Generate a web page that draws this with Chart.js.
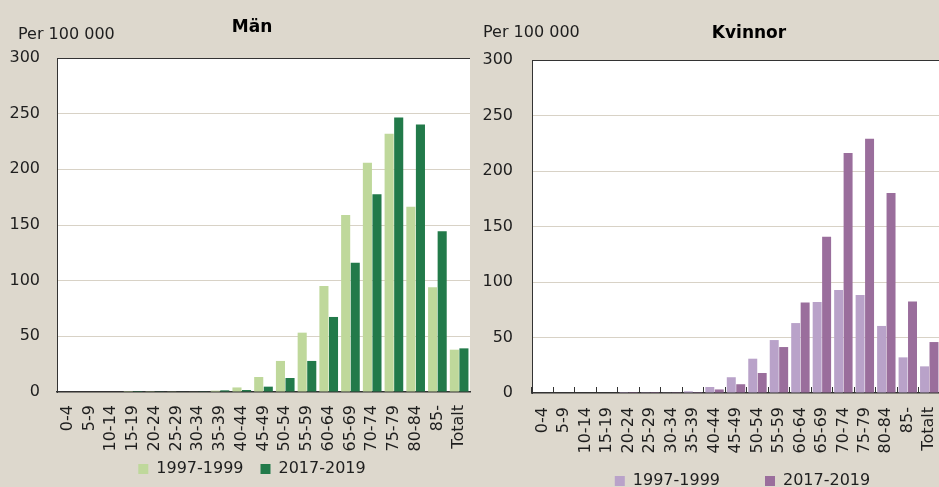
<!DOCTYPE html>
<html>
<head>
<meta charset="utf-8">
<script src="https://cdn.jsdelivr.net/npm/chart.js@4/dist/chart.umd.min.js"></script>
<style>
html, body { margin:0; padding:0; background:#ddd8cd; width:939px; height:487px; overflow:hidden; position:relative; font-family:"DejaVu Sans", sans-serif; color:#1e1e1e; }
.box { position:absolute; top:0; height:487px; overflow:hidden; }
.lbl { position:absolute; white-space:nowrap; line-height:1; }
.ttl { font-weight:bold; font-size:17px; color:#000; text-align:center; width:200px; }
</style>
</head>
<body>
<div class="box" style="left:0;width:472px"><canvas id="c1" width="472" height="600"></canvas></div>
<div class="box" style="left:470px;width:470px"><canvas id="c2" width="470" height="600"></canvas></div>
<div class="lbl" style="left:18px;top:25.5px;font-size:16px">Per 100 000</div>
<div class="lbl ttl" style="left:152px;top:17.6px">Män</div>
<div class="lbl" style="left:483px;top:23.5px;font-size:16px">Per 100 000</div>
<div class="lbl ttl" style="left:649px;top:23.6px">Kvinnor</div>
<script>
// ---- data ----
const categories = ['0-4','5-9','10-14','15-19','20-24','25-29','30-34','35-39','40-44','45-49','50-54','55-59','60-64','65-69','70-74','75-79','80-84','85-','Totalt'];
const seriesLabels = ['1997-1999', '2017-2019'];
const menEarly   = [0, 0, 0, 0.1, 0.2, 0.3, 0.5, 1.2, 4.1, 13.5, 27.9, 53.3, 95.2, 159.0, 206.0, 232.0, 166.5, 94.0, 38.0];
const menLate    = [0, 0, 0, 0.1, 0.3, 0.4, 0.6, 1.5, 1.8, 4.8, 12.6, 27.9, 67.4, 116.2, 177.6, 246.5, 240.2, 144.4, 39.2];
const womenEarly = [0, 0, 0, 0, 0.1, 0.2, 0.3, 1.5, 5.4, 14.2, 30.9, 47.7, 63.0, 82.0, 92.8, 88.3, 60.4, 32.1, 24.0];
const womenLate  = [0, 0, 0, 0, 0.1, 0.1, 0.2, 0.8, 3.2, 7.9, 18.0, 41.4, 81.6, 140.8, 216.2, 229.1, 180.2, 82.5, 45.9];
const yTicks = [0, 50, 100, 150, 200, 250, 300];

Chart.defaults.font.family = '"DejaVu Sans", sans-serif';
Chart.defaults.color = '#1e1e1e';

const framePlugin = {
  id: 'frame',
  beforeDraw(chart) {
    const {ctx, chartArea: a} = chart;
    ctx.save();
    ctx.fillStyle = '#ffffff';
    ctx.fillRect(a.left, a.top, a.right - a.left, a.bottom - a.top);
    ctx.restore();
  },
  afterDraw(chart) {
    const {ctx, chartArea: a} = chart;
    ctx.save();
    ctx.strokeStyle = '#333333';
    ctx.lineWidth = 1;
    ctx.beginPath();
    ctx.moveTo(a.left, Math.round(a.top) + 0.5);
    ctx.lineTo(a.right, Math.round(a.top) + 0.5);
    ctx.stroke();
    ctx.restore();
  }
};

const legendPlace = {
  id: 'legendPlace',
  afterLayout(chart, args, opts) {
    const lg = chart.legend;
    if (!lg || opts.x == null) return;
    const P = opts.pad, ih = opts.itemH;
    const dx = opts.x - (lg.left + lg.right) / 2;
    const dy = opts.y - (lg.top + P + ih / 2);
    lg.left += dx; lg.right += dx;
    lg.top += dy; lg.bottom += dy;
  }
};

function makeChart(id, early, late, colors, cfg) {
  const legendH = 16 + cfg.legendPad + 10;
  const H = 600;
  return new Chart(document.getElementById(id), {
    type: 'bar',
    data: {
      labels: categories,
      datasets: [
        { label: seriesLabels[0], data: early, backgroundColor: colors[0], borderWidth: 0, categoryPercentage: 0.88, barPercentage: 0.95 },
        { label: seriesLabels[1], data: late,  backgroundColor: colors[1], borderWidth: 0, categoryPercentage: 0.88, barPercentage: 0.95 }
      ]
    },
    options: {
      responsive: false,
      animation: false,
      layout: { padding: { top: cfg.top, left: 0, right: cfg.right, bottom: 0 } },
      plugins: {
        title: { display: false },
        tooltip: { enabled: false },
        legend: {
          display: true,
          position: 'bottom',
          labels: {
            boxWidth: 10, boxHeight: 10, padding: cfg.legendPad,
            color: '#1e1e1e',
            font: { size: 16, family: '"DejaVu Sans", sans-serif' }
          }
        },
        legendPlace: { x: cfg.legendX, y: cfg.legendY, pad: cfg.legendPad, itemH: 16 }
      },
      scales: {
        x: {
          type: 'category',
          offset: true,
          grid: {
            display: cfg.ticksInside,
            drawOnChartArea: false,
            drawTicks: cfg.ticksInside,
            tickLength: -6,
            tickColor: '#333333',
            tickWidth: 1,
            offset: true
          },
          border: { display: true, color: '#333333', width: 1.5 },
          ticks: {
            autoSkip: false, minRotation: 90, maxRotation: 90,
            padding: cfg.xPad,
            color: '#1e1e1e',
            font: { size: 16 }
          },
          afterFit(s) {
            s.height = H - legendH - cfg.bottom;
            s.paddingLeft = 0; s.paddingRight = 0;
          }
        },
        y: {
          min: 0, max: 300,
          afterBuildTicks(s) { s.ticks = yTicks.map(v => ({ value: v })); },
          grid: { color: '#d8d2c6', lineWidth: 1, drawTicks: false },
          border: { display: true, color: '#333333', width: 1 },
          ticks: { padding: cfg.yPad, color: '#1e1e1e', font: { size: 16 } },
          afterFit(s) { s.width = cfg.left; s.paddingTop = 0; s.paddingBottom = 0; }
        }
      }
    },
    plugins: [framePlugin, legendPlace]
  });
}

makeChart('c1', menEarly, menLate, ['#bfd89b', '#227a4a'], {
  top: 58, bottom: 392, left: 57, right: 2,
  legendPad: 17, legendX: 252, legendY: 469,
  xPad: 13, yPad: 17, ticksInside: false
});
makeChart('c2', womenEarly, womenLate, ['#b9a2c9', '#9a6e9c'], {
  top: 60, bottom: 393, left: 62, right: 0,
  legendPad: 45, legendX: 272.5, legendY: 481,
  xPad: 20, yPad: 19, ticksInside: true
});
</script>
</body>
</html>
